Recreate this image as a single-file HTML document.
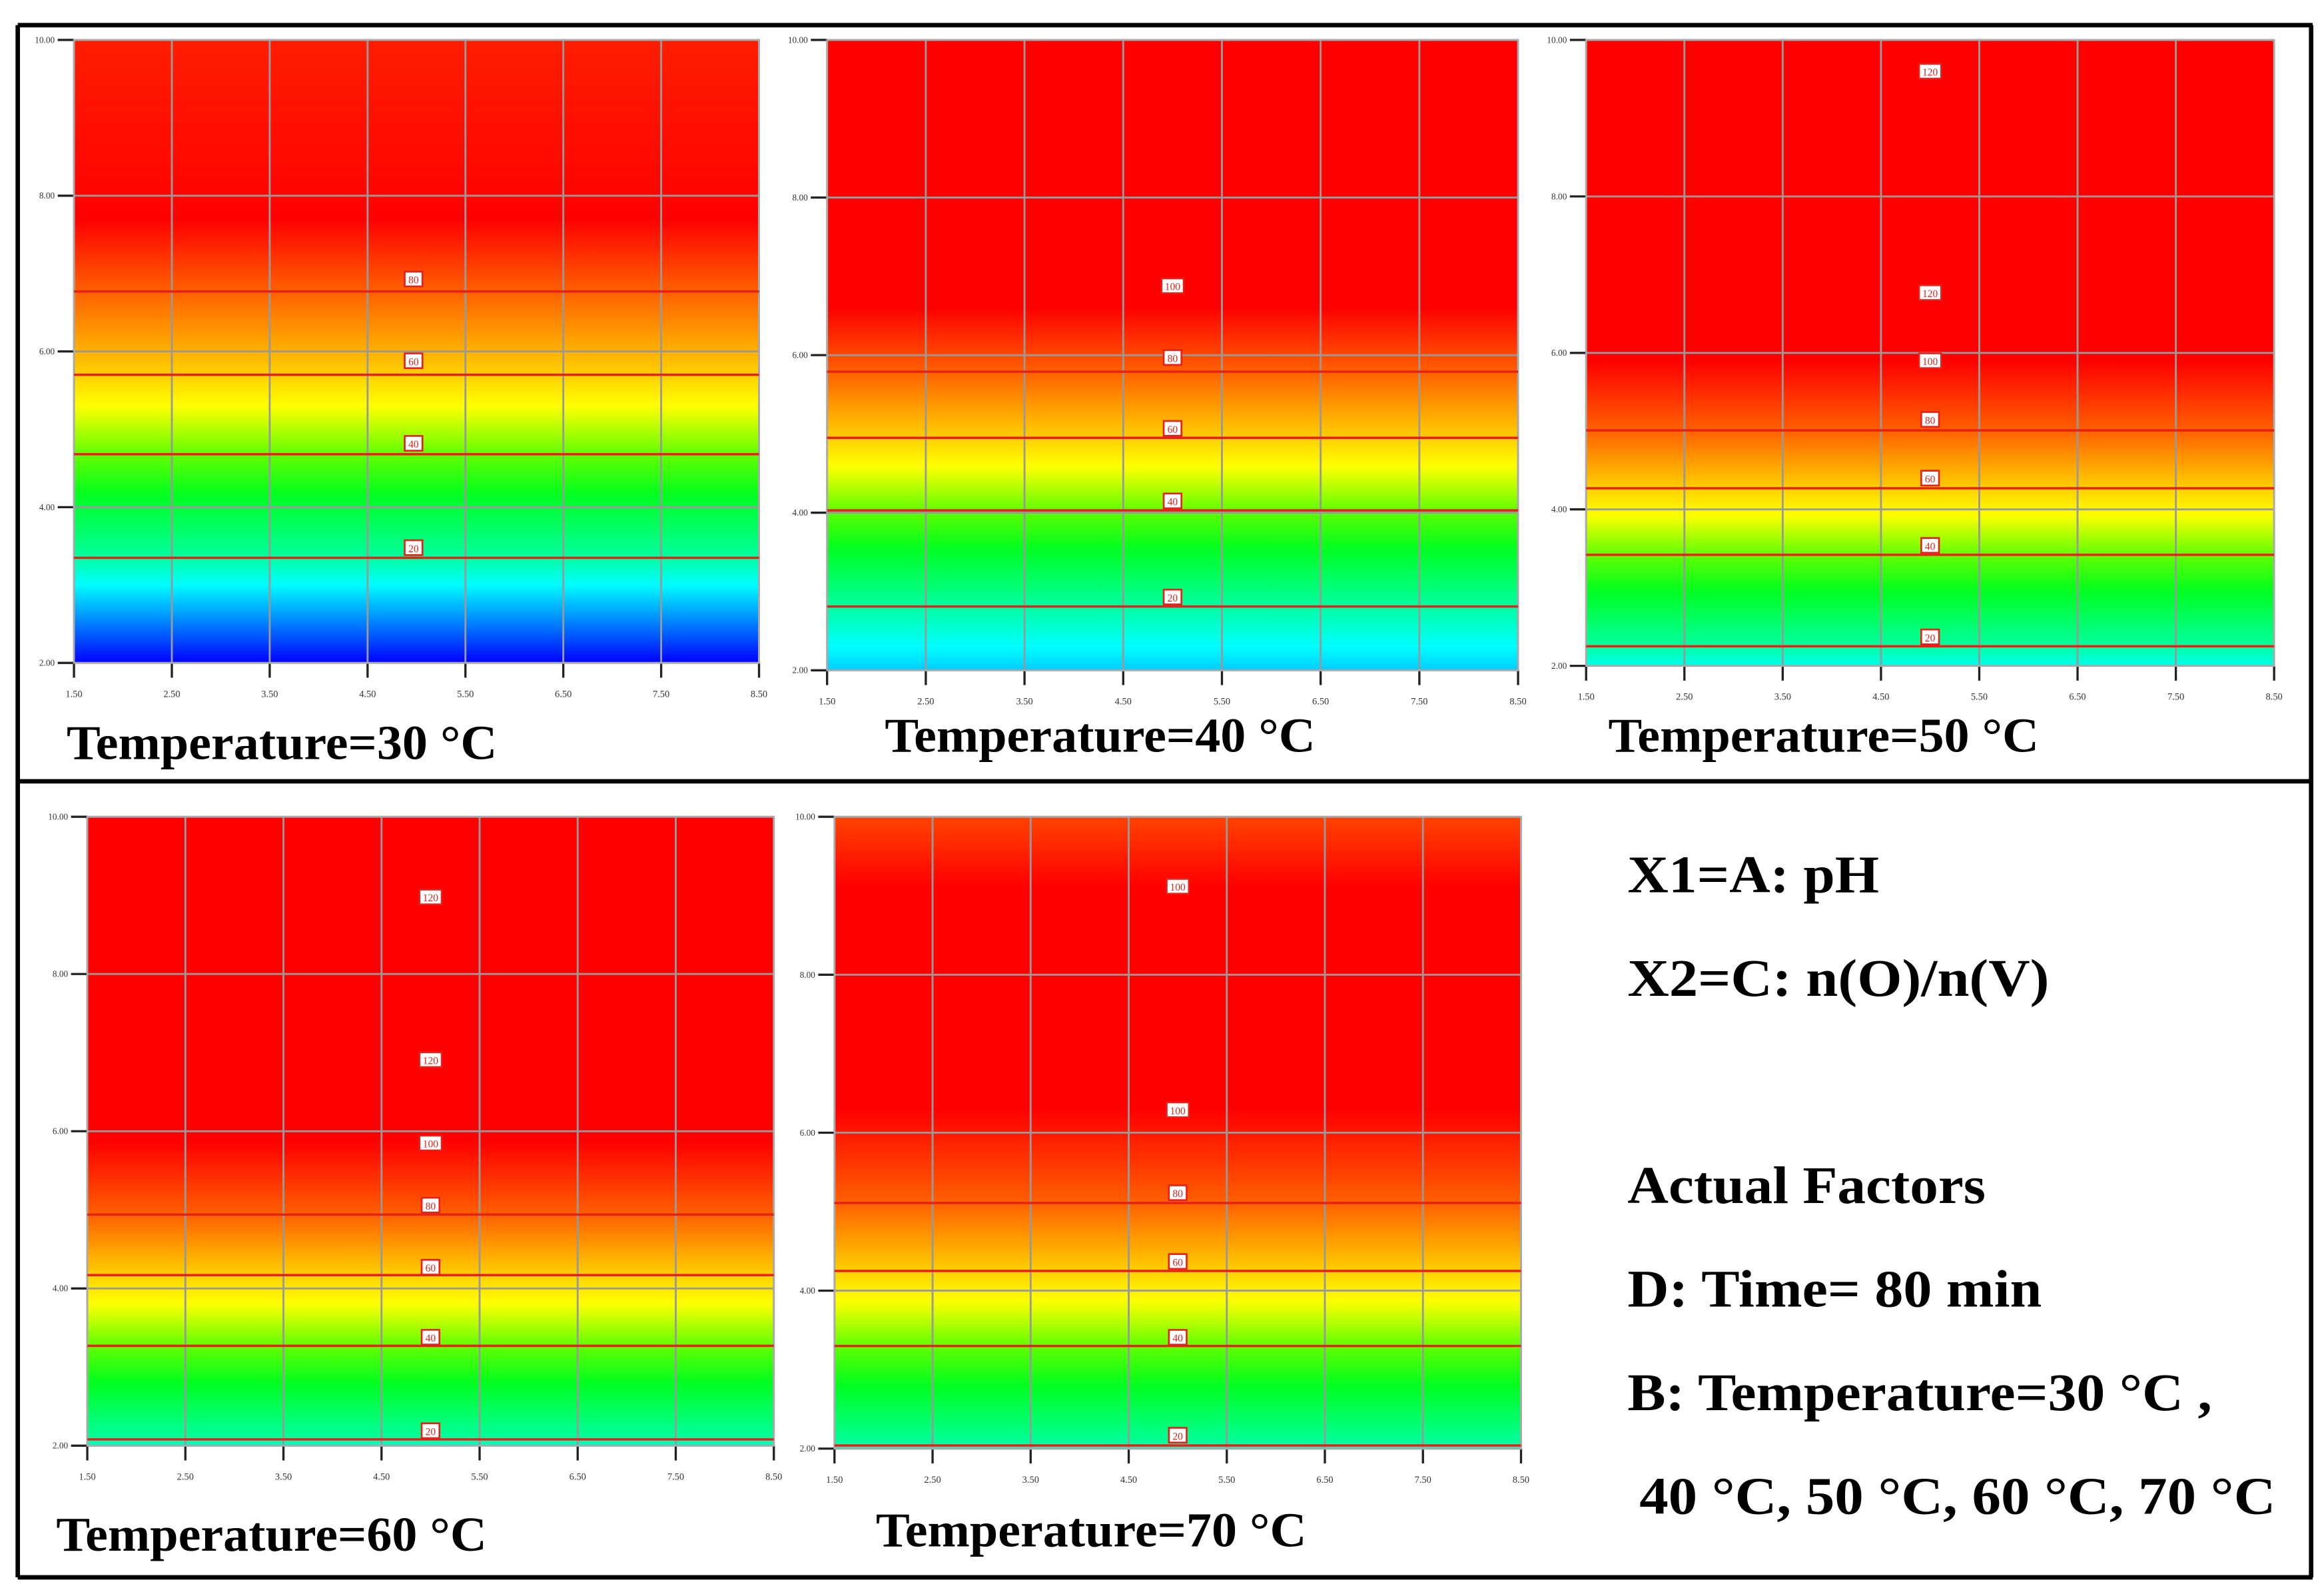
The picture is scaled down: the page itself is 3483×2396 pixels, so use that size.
<!DOCTYPE html>
<html><head><meta charset="utf-8"><style>
html,body{margin:0;padding:0;background:#fff;}
svg{display:block;}
</style></head><body>
<svg id="fig" xmlns="http://www.w3.org/2000/svg" width="3483" height="2396" viewBox="0 0 1568 1078.6" preserveAspectRatio="none">
<defs id="defs"></defs>
<rect x="0" y="0" width="1568" height="1078.6" fill="#fff"/>
<g id="panels"></g>
<g stroke="#000" stroke-width="3" fill="none">
<line x1="12" y1="17" x2="1563" y2="17"/>
<line x1="12" y1="17" x2="12" y2="1066"/>
<line x1="1562" y1="17" x2="1562" y2="1066"/>
<line x1="12" y1="528" x2="1563" y2="528"/>
<line x1="12" y1="1066" x2="1563" y2="1066"/>
</g>
<g font-family="Liberation Serif, serif" font-weight="bold" font-size="36" fill="#000">
<text x="1100" y="603" textLength="170" lengthAdjust="spacingAndGlyphs">X1=A: pH</text>
<text x="1100" y="673" textLength="285" lengthAdjust="spacingAndGlyphs">X2=C: n(O)/n(V)</text>
<text x="1100" y="813" textLength="242" lengthAdjust="spacingAndGlyphs">Actual Factors</text>
<text x="1100" y="883" textLength="280" lengthAdjust="spacingAndGlyphs">D: Time= 80 min</text>
<text x="1100" y="953" textLength="395" lengthAdjust="spacingAndGlyphs">B: Temperature=30 °C ,</text>
<text x="1108" y="1023" textLength="430" lengthAdjust="spacingAndGlyphs">40 °C,  50 °C, 60 °C, 70 °C</text>
</g>
</svg>
<script>
// ---- data ----
const panelTitles = ["Temperature=30 °C","Temperature=40 °C","Temperature=50 °C","Temperature=60 °C","Temperature=70 °C"];
const xTicks = [1.5,2.5,3.5,4.5,5.5,6.5,7.5,8.5];
const xTickLabels = ["1.50","2.50","3.50","4.50","5.50","6.50","7.50","8.50"];
const yTicks = [2,4,6,8,10];
const yTickLabels = ["2.00","4.00","6.00","8.00","10.00"];
// response profile along n(O)/n(V): positions and values
const profY1 = [2,3.35,4.68,5.70,6.77,7.7,10];   const profV1 = [0,20,40,60,80,100,94];
const profY2 = [2,2.81,4.03,4.95,5.79,6.6,10]; const profV2 = [12,20,40,60,80,100,110];
const profY3 = [2,2.25,3.42,4.27,5.01,5.9,10]; const profV3 = [16,20,40,60,80,100,130];
const profY4 = [2,2.08,3.27,4.17,4.94,5.86,10]; const profV4 = [18,20,40,60,80,100,130];
const profY5 = [2,2.04,3.30,4.25,5.11,6.29,9.12,10]; const profV5 = [18,20,40,60,80,100,100,86];
// contour lines (visible) and labels
const lineY1 = [3.35,4.68,5.70,6.77]; const labY1=[3.48,4.82,5.88,6.93]; const labT1=["20","40","60","80"];
const lineY2 = [2.81,4.03,4.95,5.79]; const labY2=[2.93,4.15,5.07,5.97,6.88]; const labT2=["20","40","60","80","100"];
const lineY3 = [2.25,3.42,4.27,5.01]; const labY3=[2.37,3.54,4.40,5.15,5.90,6.77,9.6]; const labT3=["20","40","60","80","100","120","120"];
const lineY4 = [2.08,3.27,4.17,4.94]; const labY4=[2.19,3.38,4.27,5.06,5.85,6.91,8.98]; const labT4=["20","40","60","80","100","120","120"];
const lineY5 = [2.04,3.30,4.25,5.11]; const labY5=[2.17,3.41,4.37,5.24,6.29,9.12]; const labT5=["20","40","60","80","100","100"];
const labX = [4.97,5.0,5.0,5.0,5.0];
// colormap
const cmapV = [0,15,20,32,40,52,60,80,100];
const cmapC = [[0,0,255],[0,255,255],[0,255,160],[0,255,32],[96,255,0],[255,255,0],[255,208,0],[255,96,0],[255,0,0]];

// ---- layout (preview units) ----
const boxes = [
 {x0:50,x1:513,y0:27,y1:448,tx:45,ty:513},
 {x0:559,x1:1026,y0:27,y1:453,tx:598,ty:508},
 {x0:1072,x1:1537,y0:27,y1:450,tx:1087,ty:508},
 {x0:59,x1:523,y0:552,y1:977,tx:38,ty:1048},
 {x0:564,x1:1028,y0:552,y1:979,tx:592,ty:1045}
];
const profsY=[profY1,profY2,profY3,profY4,profY5], profsV=[profV1,profV2,profV3,profV4,profV5];
const linesY=[lineY1,lineY2,lineY3,lineY4,lineY5], labsY=[labY1,labY2,labY3,labY4,labY5], labsT=[labT1,labT2,labT3,labT4,labT5];

const NS="http://www.w3.org/2000/svg";
function mk(t,a,p){const e=document.createElementNS(NS,t);for(const k in a)e.setAttribute(k,a[k]);if(p)p.appendChild(e);return e;}
function interp(xs,ys,x){if(x<=xs[0])return ys[0];for(let i=1;i<xs.length;i++){if(x<=xs[i]){const t=(x-xs[i-1])/(xs[i]-xs[i-1]);return ys[i-1]+t*(ys[i]-ys[i-1]);}}return ys[ys.length-1];}
function cmap(v){v=Math.max(0,Math.min(100,v));for(let i=1;i<cmapV.length;i++){if(v<=cmapV[i]){const t=(v-cmapV[i-1])/(cmapV[i]-cmapV[i-1]);const a=cmapC[i-1],b=cmapC[i];return `rgb(${Math.round(a[0]+t*(b[0]-a[0]))},${Math.round(a[1]+t*(b[1]-a[1]))},${Math.round(a[2]+t*(b[2]-a[2]))})`;}}return "rgb(255,0,0)";}

const defs=document.getElementById('defs'), root=document.getElementById('panels');
boxes.forEach((b,i)=>{
 const sx=x=>b.x0+(x-1.5)/7*(b.x1-b.x0);
 const sy=y=>b.y1-(y-2)/8*(b.y1-b.y0);
 const g=mk('g',{},root);
 
 
 const gr=mk('linearGradient',{id:'grad'+i,x1:0,y1:1,x2:0,y2:0},defs);
 for(let k=0;k<=80;k++){const y=2+k*0.1;mk('stop',{offset:(k/80).toFixed(4),'stop-color':cmap(interp(profsY[i],profsV[i],y))},gr);}
 const fill=mk('rect',{x:b.x0,y:b.y0,width:b.x1-b.x0,height:b.y1-b.y0,fill:'url(#grad'+i+')'},g);
 
 
 xTicks.forEach((t,k)=>{
  mk('line',{x1:sx(t),y1:b.y0,x2:sx(t),y2:b.y1,stroke:'#999','stroke-width':1.3},g);
  mk('line',{x1:sx(t),y1:b.y1,x2:sx(t),y2:b.y1+10,stroke:'#222','stroke-width':1.5},g);
  const tl=mk('text',{x:sx(t),y:b.y1+23,'font-size':6.5,'font-family':'Liberation Serif, serif','text-anchor':'middle',fill:'#333'},g);
  
  
  tl.textContent=xTickLabels[k];
 });
 yTicks.forEach((t,k)=>{
  mk('line',{x1:b.x0,y1:sy(t),x2:b.x1,y2:sy(t),stroke:'#999','stroke-width':1.3},g);
  mk('line',{x1:b.x0-11,y1:sy(t),x2:b.x0,y2:sy(t),stroke:'#222','stroke-width':1.5},g);
  const tl=mk('text',{x:b.x0-13,y:sy(t)+2,'font-size':6,'font-family':'Liberation Serif, serif','text-anchor':'end',fill:'#333'},g);
  
  
  tl.textContent=yTickLabels[k];
 });
 mk('rect',{x:b.x0,y:b.y0,width:b.x1-b.x0,height:b.y1-b.y0,fill:'none',stroke:'#aaa','stroke-width':1.2},g);
 linesY[i].forEach(y=>{
  const l=mk('line',{x1:b.x0,y1:sy(y),x2:b.x1,y2:sy(y),stroke:'#e8201a','stroke-width':1.6},g);
  
  
 });
 labsY[i].forEach((y,k)=>{
  const cx=sx(labX[i]), cy=sy(y);
  const w=labsT[i][k].length>2?15:12;
  const r=mk('rect',{x:cx-w/2,y:cy-5,width:w,height:10,fill:'#fff',stroke:'#e8201a','stroke-width':1.2},g);
  
  
  const t=mk('text',{x:cx,y:cy+3,'font-size':7,'font-family':'Liberation Serif, serif','text-anchor':'middle',fill:'#e8201a'},g);
  
  
  t.textContent=labsT[i][k];
 });
 const title=mk('text',{x:b.tx,y:b.ty,'font-size':33,'font-weight':'bold','font-family':'Liberation Serif, serif',fill:'#000',textLength:291,lengthAdjust:'spacingAndGlyphs'},g);
 
 
 title.textContent=panelTitles[i];
});
</script>
</body></html>
